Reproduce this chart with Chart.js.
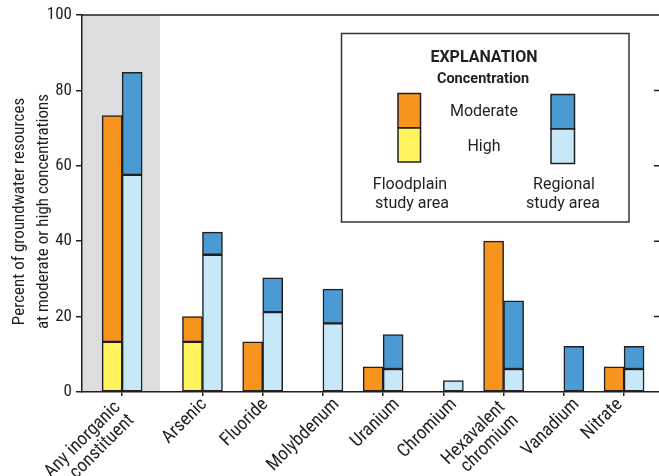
<!DOCTYPE html>
<html>
<head>
<meta charset="utf-8">
<script src="https://cdn.jsdelivr.net/npm/chart.js@4.4.1/dist/chart.umd.min.js"></script>
<style>
  html, body { margin: 0; padding: 0; background: #fff; }
</style>
</head>
<body>
<canvas id="chart" width="659" height="476"></canvas>
<script>
const categories = [
  ['Any inorganic', 'constituent'], ['Arsenic'], ['Fluoride'], ['Molybdenum'], ['Uranium'],
  ['Chromium'], ['Hexavalent', 'chromium'], ['Vanadium'], ['Nitrate']
];
// group centres on the x axis (first group stands apart)
const catPos = [2, 6, 9, 12, 15, 18, 21, 24, 27];

// floodplain study area (percent)
const floodHigh     = [13.3, 13.3, null, null, null, null, null, null, null];
const floodModerate = [60.0, 6.7, 13.3, null, 6.7, null, 40.0, null, 6.7];
// regional study area (percent)
const regHigh     = [57.6, 36.4, 21.2, 18.2, 6.1, 3.0, 6.1, null, 6.1];
const regModerate = [27.2, 6.0, 9.1, 9.1, 9.1, null, 18.1, 12.1, 6.0];

const yTicks = [0, 20, 40, 60, 80, 100];

// how far the end of each slanted label sits right of its group centre (px)
const labelShift = [-1, 5, 6, 17, 17, 14, 2, 16, -1];

const INK = '#231f20';
const COND = "'Roboto Condensed', 'DejaVu Sans Condensed', sans-serif";
const SANS = "Roboto, 'Liberation Sans', Arial, sans-serif";

function barSet(label, values, stack, color) {
  return {
    label,
    data: values.map((v, i) => ({ x: catPos[i], y: v })),
    stack,
    backgroundColor: color,
    borderColor: INK,
    borderWidth: 1.5,
    borderSkipped: false,
    barThickness: 20
  };
}

// grey band behind the first group
const bandPlugin = {
  id: 'band',
  beforeDraw(chart) {
    const { ctx, chartArea, scales } = chart;
    const x0 = scales.x.getPixelForValue(0);
    const x1 = scales.x.getPixelForValue(3.88);
    ctx.save();
    ctx.fillStyle = '#dcdddf';
    ctx.fillRect(x0, chartArea.top, x1 - x0, chartArea.bottom - chartArea.top);
    ctx.restore();
  }
};

// slanted category names under the axis
const labelPlugin = {
  id: 'catLabels',
  afterDraw(chart) {
    const { ctx, chartArea, scales } = chart;
    ctx.save();
    ctx.fillStyle = INK;
    ctx.font = '18.5px ' + COND;
    ctx.textAlign = 'right';
    ctx.textBaseline = 'alphabetic';
    categories.forEach((lines, i) => {
      const ex = scales.x.getPixelForValue(catPos[i]) + labelShift[i];
      const ey = chartArea.bottom + (lines.length > 1 ? 16 : 13);
      lines.forEach((txt, k) => {
        ctx.save();
        ctx.translate(ex + k * 13.5, ey + k * 13);
        ctx.rotate(-Math.PI / 4);
        ctx.fillText(txt, 0, 0);
        ctx.restore();
      });
    });
    ctx.restore();
  }
};

// frame, right-hand inner ticks, y title and the explanation box
const decorPlugin = {
  id: 'decor',
  afterDraw(chart) {
    const { ctx, chartArea, scales } = chart;
    ctx.save();
    ctx.strokeStyle = INK;
    ctx.lineWidth = 1.5;
    ctx.beginPath();
    ctx.moveTo(chartArea.left, chartArea.top);
    ctx.lineTo(chartArea.right, chartArea.top);
    yTicks.slice(1, -1).forEach(t => {
      const y = scales.y.getPixelForValue(t);
      ctx.moveTo(chartArea.right - 5, y);
      ctx.lineTo(chartArea.right, y);
    });
    ctx.stroke();

    // y axis title
    ctx.fillStyle = INK;
    ctx.font = '17px ' + COND;
    ctx.textAlign = 'center';
    ctx.textBaseline = 'alphabetic';
    const cy = (chartArea.top + chartArea.bottom) / 2 + 8;
    [['Percent of groundwater resources', 24], ['at moderate or high concentrations', 48]].forEach(([txt, x]) => {
      ctx.save();
      ctx.translate(x, cy);
      ctx.rotate(-Math.PI / 2);
      ctx.fillText(txt, 0, 0);
      ctx.restore();
    });

    // explanation box
    ctx.fillStyle = '#fff';
    ctx.fillRect(341.5, 33.5, 287.5, 188.5);
    ctx.strokeStyle = '#333';
    ctx.strokeRect(341.5, 33.5, 287.5, 188.5);

    ctx.fillStyle = INK;
    ctx.font = 'bold 16px ' + SANS;
    ctx.fillText('EXPLANATION', 484, 61.5);
    ctx.font = 'bold 14.5px ' + SANS;
    ctx.fillText('Concentration', 483, 83);

    ctx.strokeStyle = INK;
    const swatch = (x, y, w, h, c) => {
      ctx.fillStyle = c;
      ctx.fillRect(x, y, w, h);
      ctx.strokeRect(x, y, w, h);
    };
    swatch(398, 93.5, 22.5, 34.5, '#f7941d');
    swatch(398, 128, 22.5, 34, '#fff35f');
    swatch(551, 94.5, 23.5, 34.5, '#4a9ad4');
    swatch(551, 129, 23.5, 34.5, '#c6e8f8');

    ctx.fillStyle = INK;
    ctx.font = '16px ' + SANS;
    ctx.fillText('Moderate', 484, 116);
    ctx.fillText('High', 484, 151);
    ctx.fillText('Floodplain', 410, 189);
    ctx.fillText('study area', 412, 208);
    ctx.fillText('Regional', 564, 189);
    ctx.fillText('study area', 563, 208);
    ctx.restore();
  }
};

new Chart(document.getElementById('chart'), {
  type: 'bar',
  data: {
    datasets: [
      barSet('Floodplain high', floodHigh, 'flood', '#fff35f'),
      barSet('Floodplain moderate', floodModerate, 'flood', '#f7941d'),
      barSet('Regional high', regHigh, 'regional', '#c6e8f8'),
      barSet('Regional moderate', regModerate, 'regional', '#4a9ad4')
    ]
  },
  options: {
    responsive: false,
    animation: false,
    layout: { padding: { top: 15, right: 0, left: 0, bottom: 0 } },
    plugins: {
      legend: { display: false },
      tooltip: { enabled: false }
    },
    scales: {
      x: {
        type: 'linear',
        stacked: true,
        offset: false,
        min: 0,
        max: 28.74,
        afterBuildTicks: scale => { scale.ticks = catPos.map(v => ({ value: v })); },
        afterFit: scale => {
          scale.height = 84;
          scale.paddingLeft = 0;
          scale.paddingRight = 0;
        },
        grid: { offset: false, drawOnChartArea: false, tickLength: 4, color: INK, lineWidth: 1.5 },
        border: { color: INK, width: 1.5 },
        ticks: { display: false }
      },
      y: {
        stacked: true,
        min: 0,
        max: 100,
        afterBuildTicks: scale => { scale.ticks = yTicks.map(v => ({ value: v })); },
        afterFit: scale => { scale.width = 82; },
        grid: { drawOnChartArea: false, tickLength: 6, color: INK, lineWidth: 1.5 },
        border: { color: INK, width: 1.5 },
        ticks: {
          padding: 4,
          color: INK,
          font: { family: COND, size: 17 }
        }
      }
    }
  },
  plugins: [bandPlugin, labelPlugin, decorPlugin]
});
</script>
</body>
</html>
